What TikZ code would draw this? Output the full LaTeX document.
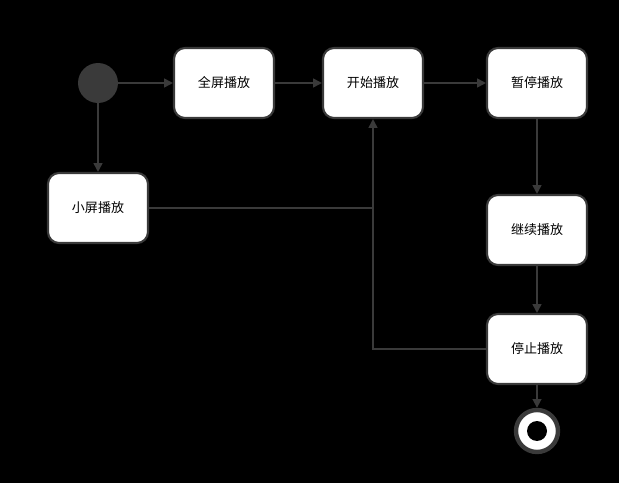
\documentclass[tikz,border=0pt]{standalone}
\usepackage{fontspec}
\setmainfont{Noto Sans CJK SC}
\usetikzlibrary{arrows.meta}
\definecolor{edgegray}{HTML}{3A3A3A}
\tikzset{
  state/.style={draw=edgegray, line width=1.2pt, fill=white, rounded corners=0.22cm,
    minimum width=2cm, minimum height=1.4cm, font=\fontsize{7.4}{9}\selectfont},
  line/.style={draw=edgegray, line width=1pt, -{Triangle[length=5pt,width=5pt]}},
  plain/.style={draw=edgegray, line width=1pt}
}
\begin{document}
\begin{tikzpicture}[x=0.02cm,y=-0.02cm]
  \fill[black] (0,0) rectangle (619,483);
  \useasboundingbox (0,0) rectangle (619,483);

  \node[circle, fill=edgegray, minimum size=0.8cm, inner sep=0pt] (start) at (98,83) {};
  \node[state] (full) at (224,83) {全屏播放};
  \node[state] (begin) at (373,83) {开始播放};
  \node[state] (pause) at (537,83) {暂停播放};
  \node[state] (small) at (98,208) {小屏播放};
  \node[state] (resume) at (537,230) {继续播放};
  \node[state] (stop) at (537,349) {停止播放};
  \node[circle, draw=edgegray, line width=2.5pt, fill=white, minimum size=0.84cm, inner sep=0pt] (end) at (537,431) {};
  \fill[black] (end.center) circle (0.2cm);
  \coordinate (join) at (373,208);

  \path [line] (start) -- (full);
  \path [line] (full) -- (begin);
  \path [line] (begin) -- (pause);
  \path [line] (start) -- (small);
  \path [plain] (small) -- (join);
  \path [line] (stop.west) -| (begin.south);
  \path [line] (pause) -- (resume);
  \path [line] (resume) -- (stop);
  \path [line] (stop) -- (end);
\end{tikzpicture}
\end{document}
